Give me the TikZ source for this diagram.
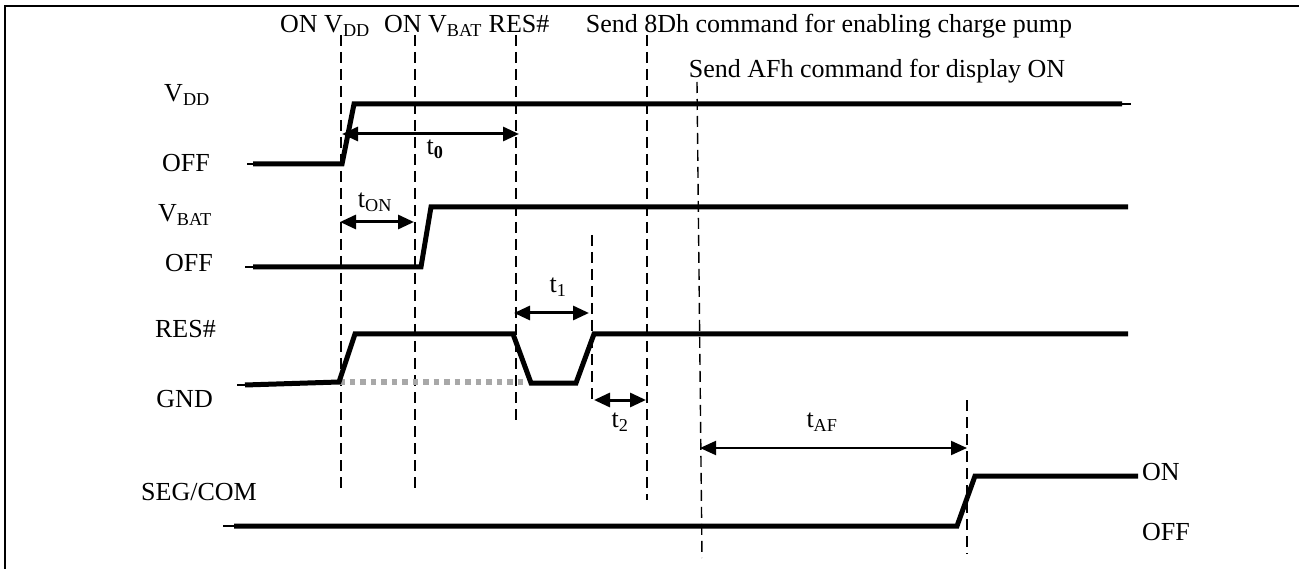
\documentclass[tikz,border=0pt]{standalone}
\usepackage{fontspec}
\setmainfont{Liberation Serif}
\usetikzlibrary{arrows.meta}
\newcommand\mysub[1]{\textsubscript{#1}}
\definecolor{dotgray}{RGB}{168,168,168}
\begin{document}
\begin{tikzpicture}[x=1pt,y=-1pt,
  sig/.style={line width=5pt, line join=miter, line cap=butt},
  stub/.style={line width=1.2pt},
  guide/.style={line width=1.4pt, dash pattern=on 11pt off 6pt},
  dimarrow/.style={line width=3pt, {Triangle[length=16pt,width=14pt]}-{Triangle[length=16pt,width=14pt]}},
  lbl/.style={font=\fontsize{26}{30}\selectfont, inner sep=0pt, anchor=base},
  lblr/.style={font=\fontsize{26}{30}\selectfont, inner sep=0pt, anchor=base east},
  lbll/.style={font=\fontsize{26}{30}\selectfont, inner sep=0pt, anchor=base west},
]
\useasboundingbox (0,0) rectangle (1299,569);
% frame
\draw[line width=2pt] (5,569) -- (5,6) -- (1299,6);

% top labels
\node[lbl] (lOnVdd) at (325,33) {ON V\mysub{DD}};
\node[lbl] (lOnVbat) at (433,33) {ON V\mysub{BAT}};
\node[lbl] (lRes) at (519,33) {RES\#};
\node[lbl] (l8D) at (829,33) {Send 8Dh command for enabling charge pump};
\node[lbl] (lAF) at (877,78) {Send AFh command for display ON};

% left labels
\node[lblr] (nVdd) at (210,102) {V\mysub{DD}};
\node[lblr] (nOff1) at (210,172) {OFF};
\node[lblr] (nVbat) at (212,222) {V\mysub{BAT}};
\node[lblr] (nOff2) at (213,272) {OFF};
\node[lblr] (nRes) at (216,338) {RES\#};
\node[lblr] (nGnd) at (213,407) {GND};
\node[lbl] (nSeg) at (199,500) {SEG/COM};
\node[lbll] (nOn) at (1142,480) {ON};
\node[lbll] (nOff3) at (1142,540) {OFF};

% guide coordinates
\coordinate (g1t) at (341,35); \coordinate (g1b) at (341,490);
\coordinate (g2t) at (415,35); \coordinate (g2b) at (415,490);
\coordinate (g3t) at (516,35); \coordinate (g3b) at (516,421);
\coordinate (g4t) at (647,35); \coordinate (g4b) at (647,500);
\coordinate (g5t) at (697,82); \coordinate (g5b) at (702,558);
\coordinate (g6t) at (592,235); \coordinate (g6b) at (592,402);
\coordinate (g7t) at (967,400); \coordinate (g7b) at (967,554);
\foreach \i in {1,...,7} { \draw[guide] (g\i t) -- (g\i b); }

% gray dotted (GND level)
\coordinate (gd1) at (339,382); \coordinate (gd2) at (524,382);
\draw[line width=5pt, dotgray, dash pattern=on 5.5pt off 5pt] (gd1) -- (gd2);

% VDD
\coordinate (v0) at (247,164); \coordinate (v1) at (253,164); \coordinate (v2) at (342,164);
\coordinate (v3) at (354,104); \coordinate (v4) at (1122,104); \coordinate (v5) at (1131,104);
\draw[stub] (v0) -- (v1);
\draw[stub] (v4) -- (v5);
\draw[sig] (v1) -- (v2) -- (v3) -- (v4);

% VBAT
\coordinate (b0) at (245,267); \coordinate (b1) at (253,267); \coordinate (b2) at (421,267);
\coordinate (b3) at (431,207); \coordinate (b4) at (1128,207);
\draw[stub] (b0) -- (b1);
\draw[sig] (b1) -- (b2) -- (b3) -- (b4);

% RES#
\coordinate (r0) at (237,385); \coordinate (r1) at (245,385); \coordinate (r2) at (339,382);
\coordinate (r3) at (355,334); \coordinate (r4) at (513,334); \coordinate (r5) at (531,383);
\coordinate (r6) at (576,383); \coordinate (r7) at (594,334); \coordinate (r8) at (1128,334);
\draw[stub] (r0) -- (r1);
\draw[sig] (r1) -- (r2) -- (r3) -- (r4) -- (r5) -- (r6) -- (r7) -- (r8);

% SEG/COM
\coordinate (s0) at (223,526); \coordinate (s1) at (234,526); \coordinate (s2) at (957,526);
\coordinate (s3) at (975,476); \coordinate (s4) at (1138,476);
\draw[stub] (s0) -- (s1);
\draw[sig] (s1) -- (s2) -- (s3) -- (s4);

% timing arrows
\coordinate (a0l) at (342,134); \coordinate (a0r) at (519,134);
\draw[dimarrow] (a0l) -- (a0r);
\node[lbl] (t0) at (435,155) {t\mysub{\textbf{0}}};
\coordinate (aonl) at (340,222); \coordinate (aonr) at (414,222);
\draw[dimarrow] (aonl) -- (aonr);
\node[lbl] (ton) at (375,208) {t\mysub{ON}};
\coordinate (a1l) at (514,313); \coordinate (a1r) at (589,313);
\draw[dimarrow] (a1l) -- (a1r);
\node[lbl] (t1) at (558,293) {t\mysub{1}};
\coordinate (a2l) at (594,400); \coordinate (a2r) at (646,400);
\draw[dimarrow] (a2l) -- (a2r);
\node[lbl] (t2) at (620,428) {t\mysub{2}};
\coordinate (afl) at (700,448); \coordinate (afr) at (967,448);
\draw[dimarrow, line width=2pt] (afl) -- (afr);
\node[lbl] (taf) at (822,428) {t\mysub{AF}};
\end{tikzpicture}
\end{document}
